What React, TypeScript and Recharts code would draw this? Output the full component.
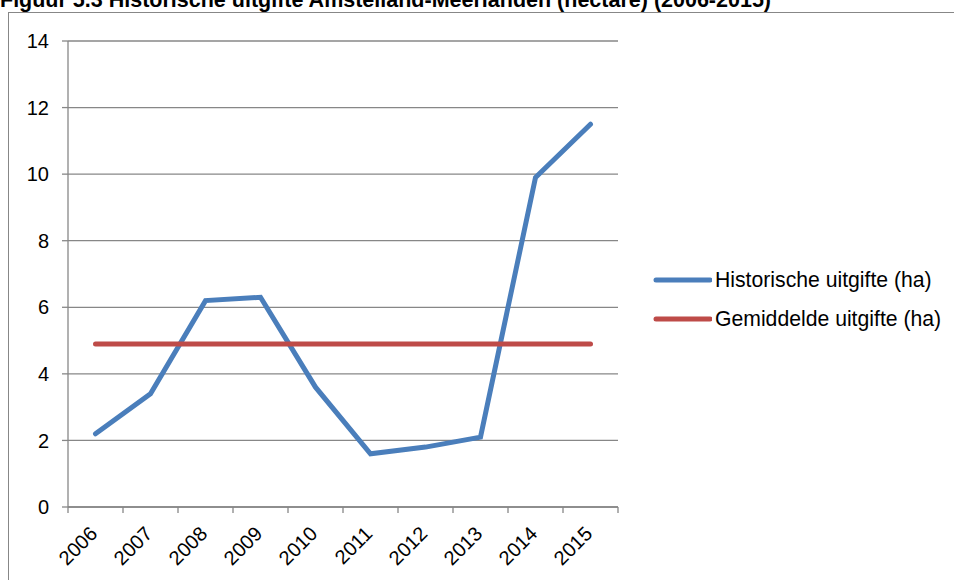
import React from 'react';
import { LineChart, Line, XAxis, YAxis, CartesianGrid, Legend } from 'recharts';

// Jaartallen en uitgifte per jaar (hectare)
const years = ['2006', '2007', '2008', '2009', '2010', '2011', '2012', '2013', '2014', '2015'];
const historischeUitgifte = [2.2, 3.4, 6.2, 6.3, 3.6, 1.6, 1.8, 2.1, 9.9, 11.5];
// Gemiddelde uitgifte over de periode (hectare)
const gemiddeldeUitgifte = 4.9;
const yTicks = [0, 2, 4, 6, 8, 10, 12, 14];

const TITLE = 'Figuur 5.3 Historische uitgifte Amstelland-Meerlanden (hectare) (2006-2015)';
const SERIES_HIST = 'Historische uitgifte (ha)';
const SERIES_GEM = 'Gemiddelde uitgifte (ha)';

const data = years.map((year, i) => ({
  year,
  historisch: historischeUitgifte[i],
  gemiddeld: gemiddeldeUitgifte,
}));

const FONT = '"Liberation Sans", Arial, Helvetica, sans-serif';
const GRID = '#878787';
const BLUE = '#4a7ebb';
const RED = '#be4b48';
const TICK_SIZE = 6;

// Category tick: tick marks sit on the category boundaries, labels are rotated.
const XTick = (props: any) => {
  const { x, y, payload, index, visibleTicksCount } = props;
  const off = payload && typeof payload.offset === 'number' ? payload.offset : 0;
  const axisY = y - TICK_SIZE;
  const last = index === visibleTicksCount - 1;
  return (
    <g>
      <line x1={x - off} x2={x - off} y1={axisY} y2={axisY + TICK_SIZE} stroke={GRID} strokeWidth={1.3} />
      {last && (
        <line x1={x + off} x2={x + off} y1={axisY} y2={axisY + TICK_SIZE} stroke={GRID} strokeWidth={1.3} />
      )}
      <text
        x={0}
        y={0}
        transform={`translate(${x + 3},${axisY + 28}) rotate(-45)`}
        textAnchor="end"
        fontFamily={FONT}
        fontSize={20}
        fill="#000"
      >
        {payload.value}
      </text>
    </g>
  );
};

const LegendContent = () => {
  const rows = [
    { label: SERIES_HIST, color: BLUE },
    { label: SERIES_GEM, color: RED },
  ];
  return (
    <div style={{ fontFamily: FONT, fontSize: 21.2, color: '#000' }}>
      {rows.map((r) => (
        <div key={r.label} style={{ display: 'flex', alignItems: 'center', height: 39.5, whiteSpace: 'nowrap' }}>
          <svg width={60} height={10} style={{ display: 'block' }}>
            <line x1={4} x2={58} y1={5} y2={5} stroke={r.color} strokeWidth={5} strokeLinecap="round" />
          </svg>
          <span style={{ marginLeft: 3 }}>{r.label}</span>
        </div>
      ))}
    </div>
  );
};

export default function App() {
  return (
    <div style={{ position: 'absolute', left: 0, top: 0, width: 954, height: 580, overflow: 'hidden', background: '#fff' }}>
      <svg width={954} height={580} style={{ position: 'absolute', left: 0, top: 0 }}>
        <rect x={8.5} y={12.5} width={980} height={620} fill="none" stroke={GRID} strokeWidth={1} />
        <text x={0} y={7} fontFamily={FONT} fontWeight="bold" fontSize={21.5} fill="#000">
          {TITLE}
        </text>
      </svg>
      <div style={{ position: 'absolute', left: 0, top: 0 }}>
        <LineChart width={954} height={580} data={data} margin={{ top: 41, right: 336, bottom: 0, left: 0 }}>
          <CartesianGrid vertical={false} stroke={GRID} strokeWidth={1.3} />
          <XAxis
            dataKey="year"
            scale="band"
            interval={0}
            height={73}
            tickLine={false}
            tickSize={TICK_SIZE}
            tickMargin={0}
            axisLine={{ stroke: GRID, strokeWidth: 1.3 }}
            tick={<XTick />}
          />
          <YAxis
            width={68}
            domain={[0, 14]}
            ticks={yTicks}
            interval={0}
            tickSize={TICK_SIZE}
            tickMargin={13}
            axisLine={{ stroke: GRID, strokeWidth: 1.3 }}
            tickLine={{ stroke: GRID, strokeWidth: 1.3 }}
            tick={{ fill: '#000', fontSize: 20, fontFamily: FONT }}
          />
          <Legend
            layout="vertical"
            align="center"
            verticalAlign="middle"
            content={<LegendContent />}
            wrapperStyle={{ left: 652, top: 260, width: 300 }}
          />
          <Line
            type="linear"
            dataKey="historisch"
            name={SERIES_HIST}
            stroke={BLUE}
            strokeWidth={5}
            strokeLinecap="round"
            strokeLinejoin="miter"
            dot={false}
            activeDot={false}
            isAnimationActive={false}
          />
          <Line
            type="linear"
            dataKey="gemiddeld"
            name={SERIES_GEM}
            stroke={RED}
            strokeWidth={5}
            strokeLinecap="round"
            dot={false}
            activeDot={false}
            isAnimationActive={false}
          />
        </LineChart>
      </div>
    </div>
  );
}
